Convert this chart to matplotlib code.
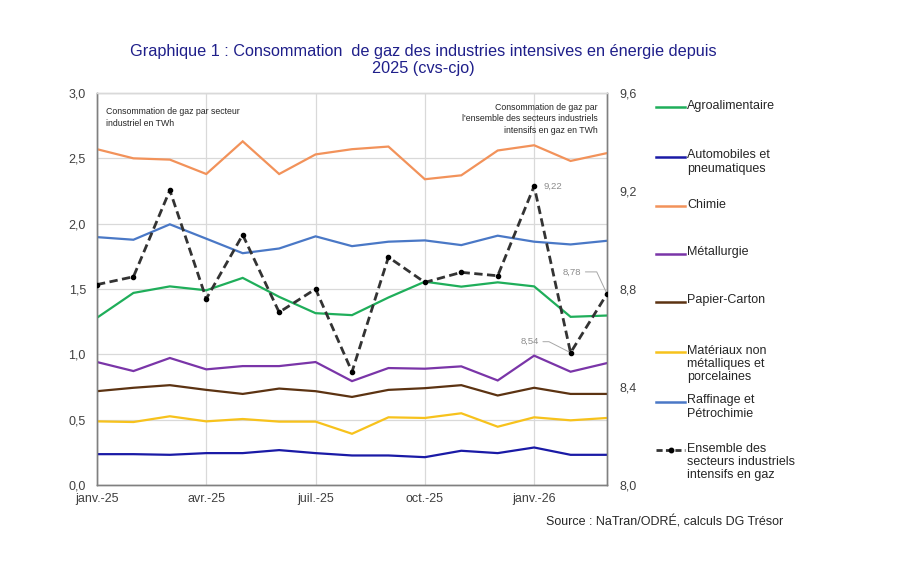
import matplotlib
matplotlib.use("Agg")
import matplotlib.pyplot as plt
from matplotlib.lines import Line2D

plt.rcParams['font.family'] = ['Liberation Sans', 'DejaVu Sans']

months = ["janv.-25", "févr.-25", "mars-25", "avr.-25", "mai-25", "juin-25", "juil.-25",
          "août-25", "sept.-25", "oct.-25", "nov.-25", "déc.-25", "janv.-26", "févr.-26", "mars-26"]
tick_idx = [0, 3, 6, 9, 12]

agro = [1.28, 1.47, 1.52, 1.49, 1.585, 1.44, 1.315, 1.30, 1.435, 1.556, 1.518, 1.551, 1.52, 1.287, 1.297]
auto = [0.236, 0.236, 0.231, 0.244, 0.244, 0.267, 0.244, 0.226, 0.226, 0.213, 0.262, 0.244, 0.287, 0.231, 0.231]
chimie = [2.57, 2.50, 2.49, 2.38, 2.63, 2.38, 2.53, 2.57, 2.59, 2.34, 2.37, 2.56, 2.60, 2.48, 2.54]
metal = [0.941, 0.872, 0.972, 0.885, 0.91, 0.91, 0.941, 0.795, 0.895, 0.89, 0.908, 0.80, 0.99, 0.867, 0.933]
papier = [0.718, 0.744, 0.764, 0.728, 0.697, 0.738, 0.718, 0.674, 0.728, 0.741, 0.764, 0.685, 0.744, 0.697, 0.697]
materiaux = [0.487, 0.482, 0.526, 0.487, 0.505, 0.485, 0.485, 0.392, 0.518, 0.513, 0.549, 0.446, 0.518, 0.495, 0.513]
raffinage = [1.897, 1.877, 1.995, 1.885, 1.774, 1.81, 1.903, 1.828, 1.862, 1.872, 1.836, 1.908, 1.862, 1.841, 1.869]
ensemble = [8.818, 8.85, 9.203, 8.76, 9.021, 8.705, 8.80, 8.462, 8.93, 8.827, 8.868, 8.854, 9.22, 8.54, 8.78]

series = [
    ("Agroalimentaire", agro, "#1fae5a"),
    ("Automobiles et\npneumatiques", auto, "#1a1aa6"),
    ("Chimie", chimie, "#f2925a"),
    ("Métallurgie", metal, "#7a35a8"),
    ("Papier-Carton", papier, "#5c3312"),
    ("Matériaux non\nmétalliques et\nporcelaines", materiaux, "#f7c21c"),
    ("Raffinage et\nPétrochimie", raffinage, "#4a78c6"),
]
ens_label = "Ensemble des\nsecteurs industriels\nintensifs en gaz"

W, H = 901, 563
fig = plt.figure(figsize=(W / 100, H / 100), dpi=100)
fig.patch.set_facecolor("white")
ax = fig.add_axes([97 / W, 1 - 485 / H, (607 - 97) / W, (485 - 93) / H])
ax2 = ax.twinx()

x = list(range(len(months)))
for name, vals, col in series:
    ax.plot(x, vals, color=col, lw=1.6, solid_joinstyle="miter", zorder=3)

ax2.plot(x, ensemble, color="#333333", lw=2.0, dashes=(3.0, 1.6), marker="o",
         markersize=3, markerfacecolor="black", markeredgecolor="black", zorder=4)

ax.set_xlim(0, len(months) - 1)
ax.set_ylim(0, 3.0)
ax2.set_ylim(8.0, 9.6)
ax.set_yticks([0, 0.5, 1.0, 1.5, 2.0, 2.5, 3.0])
ax.set_yticklabels(["0,0", "0,5", "1,0", "1,5", "2,0", "2,5", "3,0"])
ax2.set_yticks([8.0, 8.4, 8.8, 9.2, 9.6])
ax2.set_yticklabels(["8,0", "8,4", "8,8", "9,2", "9,6"])
ax.set_xticks(tick_idx)
ax.set_xticklabels([months[i] for i in tick_idx])

ax.grid(True, color="#d9d9d9", lw=0.9, zorder=0)
ax.set_axisbelow(True)
ax.tick_params(axis="both", length=0, labelsize=9, colors="#404040")
ax.tick_params(axis="y", pad=8)
ax.tick_params(axis="x", pad=6)
ax2.tick_params(axis="y", length=0, labelsize=9, colors="#404040", pad=9)

for a in (ax, ax2):
    a.spines["top"].set_color("#d9d9d9")
    a.spines["left"].set_color("#808080")
    a.spines["bottom"].set_color("#808080")
    a.spines["right"].set_color("#808080")
    for s in a.spines.values():
        s.set_linewidth(1.0)

# annotations inside plot
ax.text(0.018, 0.965, "Consommation de gaz par secteur\nindustriel en TWh", transform=ax.transAxes,
        ha="left", va="top", fontsize=6.3, color="#262626", linespacing=1.45)
ax.text(0.982, 0.975, "Consommation de gaz par\nl'ensemble des secteurs industriels\nintensifs en gaz en TWh",
        transform=ax.transAxes, ha="right", va="top", fontsize=6.3, color="#262626", linespacing=1.35)

lab_col = "#8c8c8c"
ax2.annotate("9,22", xy=(12, ensemble[12]), xytext=(9, 0), textcoords="offset pixels",
             ha="left", va="center", fontsize=6.8, color=lab_col)
ax2.annotate("8,78", xy=(14, ensemble[14]), xytext=(-35, 22), textcoords="offset pixels",
             ha="center", va="center", fontsize=6.8, color=lab_col,
             arrowprops=dict(arrowstyle="-", color="#a6a6a6", lw=0.7, shrinkA=1, shrinkB=1,
                             connectionstyle="angle,angleA=0,angleB=115,rad=0"))
ax2.annotate("8,54", xy=(13, ensemble[13]), xytext=(-41, 11), textcoords="offset pixels",
             ha="center", va="center", fontsize=6.8, color=lab_col,
             arrowprops=dict(arrowstyle="-", color="#a6a6a6", lw=0.7, shrinkA=1, shrinkB=1,
                             connectionstyle="angle,angleA=0,angleB=153,rad=0"))

# title
fig.text(423 / W, 1 - 60 / H, "Graphique 1 : Consommation  de gaz des industries intensives en énergie depuis\n2025 (cvs-cjo)",
         ha="center", va="center", fontsize=11.7, color="#1f1f8a", linespacing=1.12)

# manual legend
leg_y = [107, 157, 206, 254, 302, 352, 402, 450]
labels = [s[0] for s in series] + [ens_label]
colors = [s[2] for s in series] + ["#333333"]
for i, (ly, lab, col) in enumerate(zip(leg_y, labels, colors)):
    yf = 1 - ly / H
    if i < len(series):
        fig.add_artist(Line2D([656 / W, 685 / W], [yf, yf], color=col, lw=1.8, transform=fig.transFigure))
    else:
        fig.add_artist(Line2D([656 / W, 685 / W], [yf, yf], color=col, lw=2.0, dashes=(2.2, 1.2),
                              transform=fig.transFigure))
        fig.add_artist(Line2D([670.5 / W], [yf], color="black", marker="o", markersize=3.2,
                              linestyle="none", transform=fig.transFigure))
    fig.text(687 / W, yf + 7.5 / H, lab, ha="left", va="top", fontsize=9, color="#262626",
             linespacing=1.12)

fig.text(783 / W, 1 - 522 / H, "Source : NaTran/ODRÉ, calculs DG Trésor", ha="right", va="center",
         fontsize=9, color="#262626")

fig.savefig("out.png", dpi=100, facecolor="white")
